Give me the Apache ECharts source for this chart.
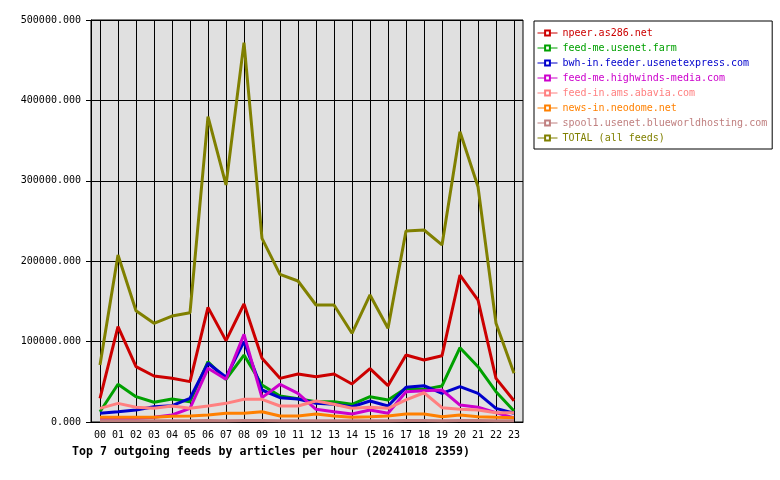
<!DOCTYPE html>
<html>
<head>
<meta charset="utf-8">
<script src="https://cdn.jsdelivr.net/npm/echarts@6/dist/echarts.min.js"></script>
<style>
  html, body { margin: 0; padding: 0; background: #fff; }
  #chart { width: 780px; height: 480px; }
</style>
</head>
<body>
<div id="chart"></div>
<script>
// hourly article counts per outgoing feed
const hours = ['00','01','02','03','04','05','06','07','08','09','10','11','12','13','14','15','16','17','18','19','20','21','22','23'];
const feedNames = ['npeer.as286.net', 'feed-me.usenet.farm', 'bwh-in.feeder.usenetexpress.com', 'feed-me.highwinds-media.com',
  'feed-in.ams.abavia.com', 'news-in.neodome.net', 'spool1.usenet.blueworldhosting.com', 'TOTAL (all feeds)'];
const feedColors = ['#cc0000', '#00a000', '#0000cc', '#cc00cc', '#ff8080', '#ff8000', '#c08080', '#808000'];

const npeer = [29400,118600,68800,57200,54300,50200,142600,101200,146800,79200,54300,59700,56400,59700,47300,66300,45200,83300,77100,82500,182800,151700,54300,26500];
const usenetFarm = [12800,46900,31500,24500,28600,25300,75000,53100,83300,46000,32300,29000,25300,25300,22000,31500,27400,41900,40600,44800,92400,68800,37700,13700];
const usenetExpress = [10800,12800,14900,19000,20300,29500,73000,55600,99900,39800,30300,28600,23300,22000,19000,26100,19900,43100,45200,35700,43900,35700,17000,10800];
const highwinds = [4500,4500,4500,6000,8700,17000,66800,53100,109000,30300,46900,35700,15800,12800,10000,14900,10800,37700,38900,39800,21100,18300,11600,5000];
const abavia = [17000,23200,18300,17000,19900,17000,19900,23200,28200,28200,19900,19900,26100,22000,17000,18300,17000,27400,36400,17800,15800,14900,11600,11600];
const neodome = [5800,5800,5800,5800,7000,7500,8700,10800,10800,12800,7500,7500,10000,7500,5800,6600,7500,10000,10000,6600,8700,6600,5800,5400];
const blueworld = [1600,1700,1500,1500,1400,1500,1800,1700,1900,1800,1600,1700,1600,1500,1400,1600,1500,1800,1900,1700,2000,1800,1600,1500];
const total = [70900,207700,138400,122700,131800,136000,379700,294800,471800,228400,183700,175400,145500,145500,110300,158000,116500,237600,238800,220200,361100,292700,122800,60500];

const seriesData = [npeer, usenetFarm, usenetExpress, highwinds, abavia, neodome, blueworld, total];
const FONT = 'DejaVu Sans Mono';

const chart = echarts.init(document.getElementById('chart'), null, { renderer: 'canvas' });
chart.setOption({
  animation: false,
  backgroundColor: '#ffffff',
  title: {
    text: 'Top 7 outgoing feeds by articles per hour (20241018 2359)',
    left: 67, top: 441,
    textStyle: { fontFamily: FONT, fontSize: 11.6, fontWeight: 'bold', color: '#000' }
  },
  legend: {
    orient: 'vertical',
    left: 534, top: 21,
    padding: [6, 5, 5, 3],
    itemGap: 3,
    itemWidth: 20, itemHeight: 6,
    backgroundColor: '#fff',
    borderColor: '#000', borderWidth: 1,
    lineStyle: { width: 1 },
    textStyle: { fontFamily: FONT, fontSize: 10, lineHeight: 12 },
    data: feedNames.map((n, i) => ({ name: n, textStyle: { color: feedColors[i] } }))
  },
  grid: {
    left: 91, right: 257, top: 20, bottom: 58,
    show: true, backgroundColor: '#e0e0e0', borderColor: '#000', borderWidth: 1
  },
  xAxis: {
    type: 'category',
    data: hours,
    boundaryGap: true,
    axisLine: { lineStyle: { color: '#000' } },
    axisTick: { alignWithLabel: true, length: 4, lineStyle: { color: '#000' } },
    axisLabel: { fontFamily: FONT, fontSize: 10, color: '#000', margin: 8, interval: 0 },
    splitLine: { show: true, alignWithLabel: true, lineStyle: { color: '#000', width: 1 } }
  },
  yAxis: {
    type: 'value',
    min: 0, max: 500000, interval: 100000,
    axisLine: { show: true, lineStyle: { color: '#000' } },
    axisTick: { show: true, length: 5, lineStyle: { color: '#000' } },
    axisLabel: { fontFamily: FONT, fontSize: 10, color: '#000', margin: 10, formatter: (v) => v.toFixed(3) },
    splitLine: { show: true, lineStyle: { color: '#000', width: 1 } }
  },
  series: seriesData.map((d, i) => ({
    name: feedNames[i],
    type: 'line',
    data: d,
    symbol: 'emptyRect',
    symbolSize: 4,
    showSymbol: false,
    z: 2 + i,
    color: feedColors[i],
    lineStyle: { color: feedColors[i], width: 3 }
  }))
});
</script>
</body>
</html>
